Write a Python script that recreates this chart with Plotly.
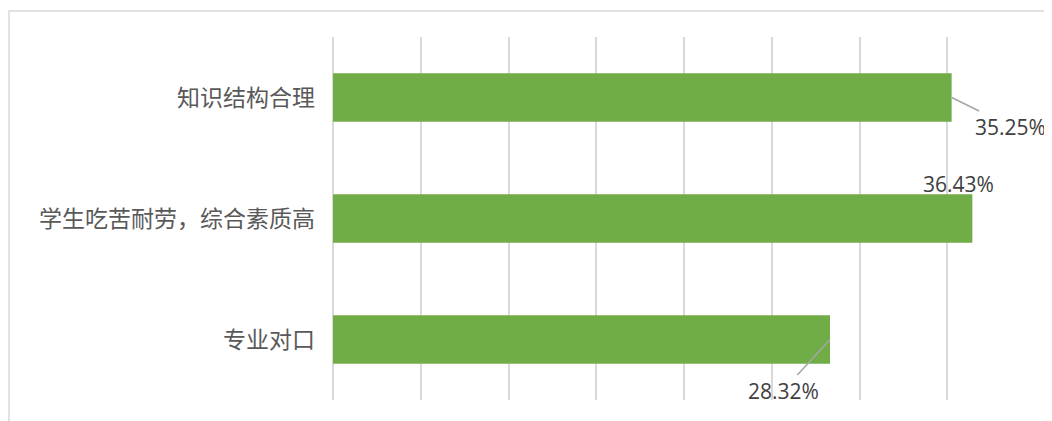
import plotly.graph_objects as go

categories = ["知识结构合理", "学生吃苦耐劳，综合素质高", "专业对口"]
values = [35.25, 36.43, 28.32]
labels = ["35.25%", "36.43%", "28.32%"]

bar_color = "#70AD47"
grid_color = "#D9D9D9"

fig = go.Figure()
fig.add_trace(go.Bar(
    y=categories, x=values, orientation="h",
    marker=dict(color=bar_color, line=dict(width=0)),
    width=0.4, hoverinfo="skip",
))

label_font = dict(family="Open Sans, Liberation Sans, sans-serif", size=21, color="#404040")
# label placements (pixel offsets from bar end)
placements = [
    dict(showarrow=True, ax=59, ay=29),
    dict(showarrow=False, xshift=-14, yshift=35),
    dict(showarrow=True, ax=-47, ay=51),
]
for cat, v, lab, p in zip(categories, values, labels, placements):
    ann = dict(x=v, y=cat, xref="x", yref="y", text=lab, font=label_font)
    if p["showarrow"]:
        ann.update(showarrow=True, ax=p["ax"], ay=p["ay"], axref="pixel", ayref="pixel",
                   arrowhead=0, arrowwidth=1.5, arrowcolor="#A6A6A6", standoff=0)
    else:
        ann.update(showarrow=False, xshift=p["xshift"], yshift=p["yshift"])
    fig.add_annotation(**ann)

# outer chart border
fig.add_shape(type="rect", xref="paper", yref="paper",
              x0=-0.4615, x1=1.04, y0=-0.1, y1=1.0716,
              line=dict(color="#D9D9D9", width=1.5), fillcolor="rgba(0,0,0,0)", layer="below")

fig.update_layout(
    width=1044, height=413,
    margin=dict(l=325, r=17, t=29, b=21),
    paper_bgcolor="white", plot_bgcolor="white",
    showlegend=False,
    bargap=0.6,
    xaxis=dict(range=[0, 40], dtick=5, showgrid=True, gridcolor=grid_color, gridwidth=1.5,
               zeroline=True, zerolinecolor=grid_color, zerolinewidth=1.5,
               showticklabels=False, showline=False, fixedrange=True),
    yaxis=dict(autorange="reversed", showgrid=False, showline=False, zeroline=False,
               ticklabelstandoff=17,
               tickfont=dict(family="Noto Sans CJK SC, sans-serif", size=23, color="#595959")),
)

fig.write_html("out.html")
